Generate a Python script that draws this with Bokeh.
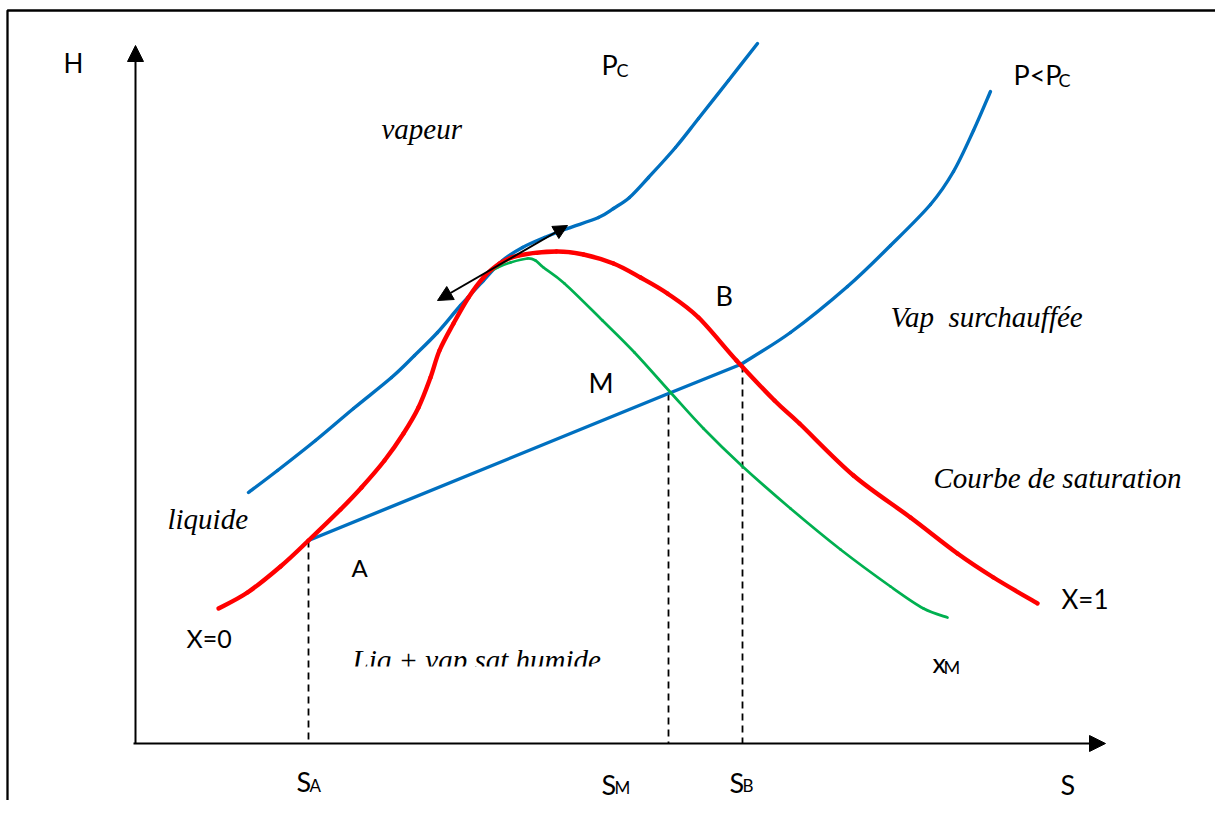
from bokeh.plotting import figure
from bokeh.models import Range1d, Arrow, NormalHead
from bokeh.core.properties import value
from bokeh.embed import file_html
from bokeh.resources import INLINE

# ---- Schematic H-S (Mollier) diagram, arbitrary units (S horizontal, H vertical) ----
# critical isobar P_C (blue, upper)
pc_S = [113, 142, 180, 218, 256, 279, 302, 325, 348, 367, 387, 409, 432, 463, 478, 494, 513, 540, 563, 593, 622]
pc_H = [251, 273, 303, 335, 366, 388, 411, 438, 463, 483, 496, 506, 515, 526, 535, 546, 566, 596, 625, 663, 700]

# saturation curve x=0 .. x=1 (red)
sat_S = [83, 112, 145, 173, 205, 226, 249, 268, 283, 295, 304, 318, 333, 348, 364, 383, 421, 448, 478, 505,
         532, 563, 601, 639, 664, 718, 775, 822, 858, 902]
sat_H = [135, 151, 177, 203, 234, 256, 283, 310, 336, 366, 393, 420, 446, 466, 480, 488, 492, 489, 480, 466,
         450, 426, 383, 343, 320, 268, 226, 190, 166, 140]

# iso-quality curve x_M (green)
xm_S = [350, 362, 375, 392, 400, 408, 429, 467, 499, 536, 568, 606, 655, 705, 755, 788, 812]
xm_H = [469, 476, 481, 485, 483, 476, 460, 423, 391, 350, 315, 278, 235, 194, 157, 135, 126]

# isobar P < P_C (blue, lower): A -> M -> B (straight), then superheated vapour
p_S = [173, 533, 605, 655, 712, 755, 795, 818, 838, 855]
p_H = [203, 350, 379, 411, 457, 498, 539, 572, 613, 652]

# characteristic points A, M, B (dashed drops to the S axis)
pt_S = [173, 533, 607]
pt_H = [203, 350, 378]

# tangent at the critical point
tan_S = [302, 432]
tan_H = [443, 518]

BLUE = "#0070C0"
RED = "#FF0000"
GREEN = "#00B050"

p = figure(width=1215, height=800, x_range=Range1d(-135, 1080), y_range=Range1d(-57, 743),
           output_backend="svg", toolbar_location=None, min_border=0,
           x_axis_location=None, y_axis_location=None)
p.grid.visible = False
p.outline_line_color = None
p.background_fill_color = "white"
p.border_fill_color = "white"


def smooth_curve(xs, ys, **kw):
    """Draw a smooth curve through the read points (Catmull-Rom rendered as Bezier segments)."""
    n = len(xs)
    x0, y0, x1, y1, cx0, cy0, cx1, cy1 = [], [], [], [], [], [], [], []
    for i in range(n - 1):
        a = max(i - 1, 0)
        d = min(i + 2, n - 1)
        x0.append(xs[i]); y0.append(ys[i])
        x1.append(xs[i + 1]); y1.append(ys[i + 1])
        cx0.append(xs[i] + (xs[i + 1] - xs[a]) / 6.0)
        cy0.append(ys[i] + (ys[i + 1] - ys[a]) / 6.0)
        cx1.append(xs[i + 1] - (xs[d] - xs[i]) / 6.0)
        cy1.append(ys[i + 1] - (ys[d] - ys[i]) / 6.0)
    p.bezier(x0=x0, y0=y0, x1=x1, y1=y1, cx0=cx0, cy0=cy0, cx1=cx1, cy1=cy1,
             line_cap="round", **kw)


# frame (top and left edges of the text box)
p.line([-128, -128, 1090], [-80, 733, 733], line_color="black", line_width=2.3)

# dashed verticals
p.segment(x0=pt_S, y0=pt_H, x1=pt_S, y1=[0, 0, 0], line_color="black", line_width=1.8, line_dash="7 5")

# curves
smooth_curve(pc_S, pc_H, line_color=BLUE, line_width=3.4)
p.line(p_S[:3], p_H[:3], line_color=BLUE, line_width=3.4, line_cap="round")
smooth_curve(p_S[2:], p_H[2:], line_color=BLUE, line_width=3.4)
smooth_curve(xm_S, xm_H, line_color=GREEN, line_width=2.7)
smooth_curve(sat_S, sat_H, line_color=RED, line_width=4.4)

# axes with arrows
p.add_layout(Arrow(x_start=0, y_start=0, x_end=0, y_end=698, line_width=2, line_color="black",
                   end=NormalHead(size=16, fill_color="black", line_color="black")))
p.add_layout(Arrow(x_start=-2, y_start=0, x_end=970, y_end=0, line_width=2, line_color="black",
                   end=NormalHead(size=16, fill_color="black", line_color="black")))

# tangent double arrow
p.add_layout(Arrow(x_start=tan_S[0], y_start=tan_H[0], x_end=tan_S[1], y_end=tan_H[1],
                   line_width=2, line_color="black",
                   start=NormalHead(size=15, fill_color="black", line_color="black"),
                   end=NormalHead(size=14, fill_color="black", line_color="black")))

SANS = value("Lato")
SERIF = value("Liberation Serif")


def txt(xs, ys, labels, size, font=SANS, style="normal"):
    p.text(x=xs, y=[y + 10 for y in ys], text=labels, text_font=font, text_font_size=size,
           text_font_style=style, text_baseline="alphabetic", text_align="left", text_color="black")


# italic region names
txt([246, 755, 798, 32, 217], [605, 417, 256, 215, 74],
    ["vapeur", "Vap\u00a0\u00a0surchauffée", "Courbe de saturation", "liquide", "Liq + vap sat humide"],
    "29px", SERIF, "italic")

# main sans labels (with subscripts)
txt([-72], [671], ["H"], "26px")
txt([466, 878], [669, 659], ["P", "P<P"], "27px")
txt([481, 923], [664, 654], ["C", "C"], "18px")
txt([580, 453], [438, 351], ["B", "M"], "27px")
txt([216], [166], ["A"], "24px")
txt([51], [96], ["X=0"], "25px")
txt([926], [135], ["X=1"], "26px")
txt([797], [71], ["x"], "27px")
txt([808], [67], ["M"], "18px")
txt([161, 466, 594, 925], [-48, -51, -49, -51], ["S", "S", "S", "S"], "27px")
txt([174, 479, 607], [-52, -54, -52], ["A", "M", "B"], "17px")

# text-box clipping of the region label (white mask as in the source document)
p.quad(left=[210], right=[480], bottom=[50], top=[77], fill_color="white", line_color=None)

open("out.html", "w").write(file_html(p, INLINE))
